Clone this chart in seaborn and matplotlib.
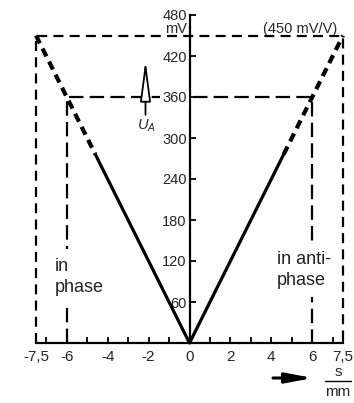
import matplotlib
matplotlib.use("Agg")
import matplotlib.pyplot as plt
import seaborn as sns
import pandas as pd
from matplotlib.lines import Line2D

# ---- data ----
s_solid = [-4.6, 0.0, 4.6]
u_solid = [276, 0, 276]
s_dash_left = [-7.5, -4.6]
u_dash_left = [450, 276]
s_dash_right = [4.6, 7.5]
u_dash_right = [276, 450]
s_outer = [-7.5, -7.5, 7.5, 7.5]
u_outer = [0, 450, 450, 0]
s_inner = [-6, -6, 6, 6]
u_inner = [0, 360, 360, 0]

x_ticks = [-7.5, -6, -4, -2, 0, 2, 4, 6, 7.5]
x_labels = ["-7,5", "-6", "-4", "-2", "0", "2", "4", "6", "7,5"]
x_minor = [-7, -5, -3, -1, 1, 3, 5, 7]
y_ticks = [60, 120, 180, 240, 300, 360, 420, 480]
y_labels = ["60", "120", "180", "240", "300", "360", "420", "480"]

sns.set_theme(style="white")
plt.rcParams["font.family"] = ["Liberation Sans", "DejaVu Sans"]
plt.rcParams["mathtext.fontset"] = "custom"
plt.rcParams["mathtext.rm"] = "Liberation Sans"
plt.rcParams["mathtext.it"] = "Liberation Sans:italic"

fig = plt.figure(figsize=(3.54, 4.03), dpi=100)
ax = fig.add_axes([36 / 354, 60 / 403, 307 / 354, 328 / 403])
ax.set_xlim(-7.5, 7.5)
ax.set_ylim(0, 480)

kw = dict(sort=False, estimator=None, errorbar=None, ax=ax, color="black",
          clip_on=False)
# rectangles
sns.lineplot(x=s_outer, y=u_outer, lw=1.6, linestyle=(0, (4.5, 2.8)),
             zorder=4, **kw)
sns.lineplot(x=s_inner, y=u_inner, lw=1.6, linestyle=(0, (6.5, 2.8)),
             zorder=2, **kw)
# V characteristic
sns.lineplot(x=s_solid, y=u_solid, lw=2.3, zorder=7, **kw)
for sx, uy in ((s_dash_left, u_dash_left), (s_dash_right, u_dash_right)):
    sns.lineplot(x=sx, y=uy, lw=3.0, linestyle=(0, (2.1, 1.4)), zorder=7, **kw)

# spines / ticks
for side in ("top", "right"):
    ax.spines[side].set_visible(False)
ax.spines["left"].set_position(("data", 0))
for side in ("left", "bottom"):
    ax.spines[side].set_color("black")
    ax.spines[side].set_linewidth(1.6)
    ax.spines[side].set_zorder(6)

ax.set_xticks(x_ticks)
ax.set_xticklabels(x_labels)
ax.set_xticks(x_minor, minor=True)
ax.set_yticks(y_ticks)
ax.set_yticklabels(y_labels)
ax.tick_params(axis="x", which="both", direction="in", length=4, width=1.3,
               color="black", pad=5, labelsize=11, bottom=True)
ax.tick_params(axis="y", which="both", direction="in", length=4, width=1.3,
               color="black", pad=2, labelsize=10.5, left=True)
ax.grid(False)
ax.yaxis.set_zorder(6)

# texts
ax.text(-0.12, 459, "mV", ha="right", va="center", fontsize=10.5)
ax.text(5.4, 460, "(450 mV/V)", ha="center", va="center", fontsize=10.5)
ax.text(-6.6, 97, "in\nphase", ha="left", va="center", fontsize=13,
        linespacing=1.3, color="#222222", zorder=3,
        bbox=dict(fc="white", ec="none", pad=6))
ax.text(4.28, 107, "in anti-\nphase", ha="left", va="center", fontsize=13,
        linespacing=1.3, color="#222222", zorder=3,
        bbox=dict(fc="white", ec="none", pad=6))

# U_A arrow
ax.annotate("", xy=(-2.15, 414), xytext=(-2.15, 334),
            arrowprops=dict(arrowstyle="-|>,head_length=2.5,head_width=0.33",
                            mutation_scale=10, fc="white", ec="black", lw=1.3,
                            shrinkA=0, shrinkB=0))
ax.text(-2.1, 318, r"$U_A$", ha="center", va="center", fontsize=10.5)

# s/mm axis arrow
ax.annotate("", xy=(313, 25), xytext=(273, 25), xycoords="figure pixels",
            textcoords="figure pixels",
            arrowprops=dict(arrowstyle="-|>,head_length=1.6,head_width=0.3",
                            mutation_scale=10, fc="black", ec="black", lw=2.2,
                            shrinkA=0, shrinkB=0))
fig.text(338 / 354, (403 - 372) / 403, "s", ha="center", va="center",
         fontsize=11)
fig.text(338 / 354, (403 - 392) / 403, "mm", ha="center", va="center",
         fontsize=11)
fig.add_artist(Line2D([325 / 354, 351 / 354], [(403 - 381) / 403] * 2,
                      color="black", lw=1.0, transform=fig.transFigure))

fig.canvas.draw()
for lab in ax.get_yticklabels():
    if lab.get_text() == "360":
        lab.set_bbox(dict(fc="white", ec="none", pad=1.5))

fig.savefig("out.png", dpi=100)
